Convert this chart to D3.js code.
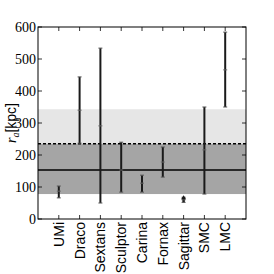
<!DOCTYPE html>
<html>
<head>
<meta charset="utf-8">
<script src="https://cdn.jsdelivr.net/npm/d3@7"></script>
<style>
body { margin: 0; background: #fff; }
</style>
</head>
<body>
<div id="chart"></div>
<script>
// galaxies and their r_a estimates (kpc)
var names = ["UMi", "Draco", "Sextans", "Sculptor", "Carina", "Fornax", "Sagittar", "SMC", "LMC"];
var mid = [87, 340, 291, 153, 112, 178, 60, 216, 466];
var lower = [66, 237, 50, 84, 84, 131, 52, 78, 350];
var upper = [103, 444, 534, 240, 137, 225, 68, 350, 584];
var yTicks = [0, 100, 200, 300, 400, 500, 600];

// bands and reference lines
var outerBand = [78, 343];
var innerBand = [78, 235];
var meanLine = 153;
var dashLine = 235;

var W = 274, H = 274;
var pLeft = 38, pRight = 246, pTop = 27, pBottom = 219;

var svg = d3.select("#chart").append("svg")
    .attr("width", W)
    .attr("height", H);

var x = d3.scaleLinear().domain([0, names.length + 1]).range([pLeft, pRight]);
var y = d3.scaleLinear().domain([0, 600]).range([pBottom, pTop]);

// shaded bands
svg.append("rect")
    .attr("x", pLeft).attr("width", pRight - pLeft)
    .attr("y", y(outerBand[1])).attr("height", y(outerBand[0]) - y(outerBand[1]))
    .attr("fill", "#e6e6e6");
svg.append("rect")
    .attr("x", pLeft).attr("width", pRight - pLeft)
    .attr("y", y(innerBand[1])).attr("height", y(innerBand[0]) - y(innerBand[1]))
    .attr("fill", "#a5a5a5");

svg.append("line")
    .attr("x1", pLeft).attr("x2", pRight)
    .attr("y1", y(meanLine)).attr("y2", y(meanLine))
    .attr("stroke", "#000").attr("stroke-width", 1.5);
svg.append("line")
    .attr("x1", pLeft).attr("x2", pRight)
    .attr("y1", y(dashLine)).attr("y2", y(dashLine))
    .attr("stroke", "#000").attr("stroke-width", 1.5)
    .attr("stroke-dasharray", "3,2");

var data = names.map(function (n, i) {
    return {name: n, i: i + 1, mid: mid[i], lo: lower[i], hi: upper[i]};
});

var bars = svg.append("g").selectAll("g")
    .data(data)
    .enter().append("g");

bars.append("line")
    .attr("x1", function (d) { return x(d.i); })
    .attr("x2", function (d) { return x(d.i); })
    .attr("y1", function (d) { return y(d.lo); })
    .attr("y2", function (d) { return y(d.hi); })
    .attr("stroke", "#1a1a1a")
    .attr("stroke-width", function (d) { return d.name === "Sagittar" ? 2.5 : 2; });

// caps
bars.selectAll(".cap")
    .data(function (d) { return [{i: d.i, v: d.lo}, {i: d.i, v: d.hi}]; })
    .enter().append("line")
    .attr("class", "cap")
    .attr("x1", function (d) { return x(d.i) - 2; })
    .attr("x2", function (d) { return x(d.i) + 2; })
    .attr("y1", function (d) { return y(d.v); })
    .attr("y2", function (d) { return y(d.v); })
    .attr("stroke", "#555").attr("stroke-width", 1);

// centre marks
bars.append("line")
    .attr("x1", function (d) { return x(d.i) - 2; })
    .attr("x2", function (d) { return x(d.i) + 2; })
    .attr("y1", function (d) { return y(d.mid); })
    .attr("y2", function (d) { return y(d.mid); })
    .attr("stroke", "#666").attr("stroke-width", 1);

// Sagittar arrow head (lower limit)
bars.filter(function (d) { return d.name === "Sagittar"; })
    .append("path")
    .attr("d", function (d) {
        var cx = x(d.i), cy = y(d.hi) - 1;
        return "M" + (cx - 2.5) + "," + (cy + 3) + "L" + cx + "," + (cy - 1) + "L" + (cx + 2.5) + "," + (cy + 3) + "Z";
    })
    .attr("fill", "#1a1a1a");

// frame
svg.append("rect")
    .attr("x", pLeft).attr("y", pTop)
    .attr("width", pRight - pLeft).attr("height", pBottom - pTop)
    .attr("fill", "none").attr("stroke", "#000").attr("stroke-width", 1);

// inward ticks
var tk = 4;
yTicks.forEach(function (v) {
    svg.append("line").attr("x1", pLeft).attr("x2", pLeft + tk)
        .attr("y1", y(v)).attr("y2", y(v)).attr("stroke", "#000").attr("stroke-width", 0.8);
    svg.append("line").attr("x1", pRight).attr("x2", pRight - tk)
        .attr("y1", y(v)).attr("y2", y(v)).attr("stroke", "#000").attr("stroke-width", 0.8);
    svg.append("text")
        .attr("x", pLeft - 2).attr("y", y(v))
        .attr("dy", "0.35em")
        .attr("text-anchor", "end")
        .attr("font-family", "Liberation Serif, serif")
        .attr("font-size", 14)
        .text(v);
});
data.forEach(function (d) {
    svg.append("line").attr("x1", x(d.i)).attr("x2", x(d.i))
        .attr("y1", pBottom).attr("y2", pBottom - tk).attr("stroke", "#000").attr("stroke-width", 0.8);
    svg.append("line").attr("x1", x(d.i)).attr("x2", x(d.i))
        .attr("y1", pTop).attr("y2", pTop + tk).attr("stroke", "#000").attr("stroke-width", 0.8);
    svg.append("text")
        .attr("transform", "translate(" + x(d.i) + "," + (pBottom + 3) + ") rotate(-90)")
        .attr("dy", "0.36em")
        .attr("text-anchor", "end")
        .attr("font-family", "Liberation Sans, Arial, sans-serif")
        .attr("font-size", 14)
        .text(d.name);
});

// y label
var yl = svg.append("text")
    .attr("transform", "translate(16," + ((pTop + pBottom) / 2) + ") rotate(-90)")
    .attr("text-anchor", "middle")
    .attr("font-size", 14);
yl.append("tspan")
    .attr("font-family", "Liberation Serif, serif")
    .attr("font-style", "italic")
    .text("r");
yl.append("tspan")
    .attr("font-family", "Liberation Serif, serif")
    .attr("font-style", "italic")
    .attr("font-size", 10)
    .attr("dy", 3)
    .text("a");
yl.append("tspan")
    .attr("font-family", "Liberation Sans, Arial, sans-serif")
    .attr("dy", -3)
    .text("[kpc]");
</script>
</body>
</html>
